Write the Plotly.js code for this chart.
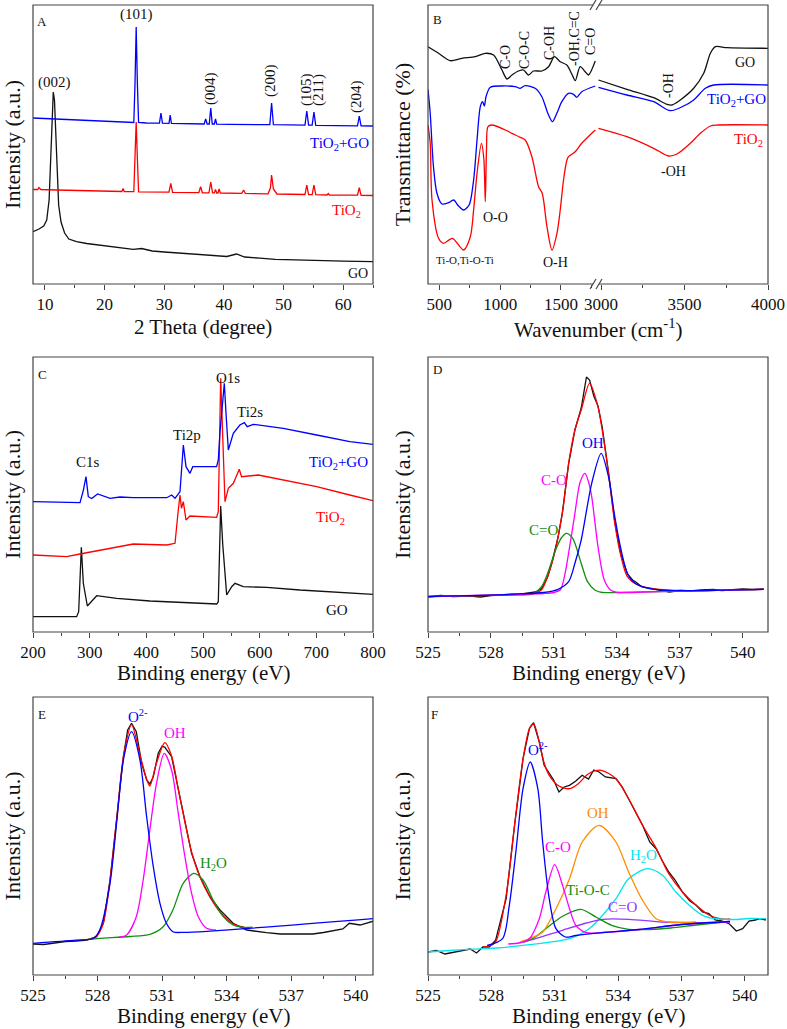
<!DOCTYPE html>
<html>
<head>
<meta charset="utf-8">
<script src="https://cdn.plot.ly/plotly-3.0.1.min.js"></script>
<style>
  html, body { margin: 0; padding: 0; background: #fff; }
  #chart { width: 787px; height: 1029px; }
</style>
</head>
<body>
<div id="chart"></div>
<script>
// ---------- Panel A: XRD (2 theta, intensity a.u.) ----------
const xrdCompX = [8, 10, 12, 14, 16, 18, 20, 22, 24.9, 25.1, 25.3, 25.5, 25.7, 27, 29.2, 29.45, 29.7, 30.8, 31.0, 31.2, 33, 36.7, 36.95, 37.2, 37.55, 37.8, 38.05, 38.4, 38.6, 38.8, 41, 43.8, 47.7, 48.0, 48.3, 53.6, 53.9, 54.2, 54.8, 55.1, 55.4, 62.4, 62.7, 63.0, 65];
const xrdCompY = [166, 165.5, 165, 164.5, 164, 163.5, 163, 162.5, 161.5, 200, 257, 200, 161.5, 161, 160.8, 171, 160.8, 160.7, 169, 160.6, 160.5, 160, 165, 160, 160, 176, 160, 160, 165, 159.8, 159.7, 159.5, 159.3, 181, 159.3, 158.8, 173, 158.8, 158.8, 172, 158.7, 158.2, 168, 158.2, 158];
const xrdTiX = [8, 8.8, 9.0, 9.3, 12, 16, 20, 22.9, 23.1, 23.3, 24.9, 25.1, 25.3, 25.5, 25.7, 30.8, 31.1, 31.4, 35.8, 36.1, 36.4, 37.5, 37.8, 38.1, 38.4, 38.6, 38.8, 39.0, 39.2, 39.4, 43.0, 43.3, 43.6, 45, 47.4, 47.8, 48.0, 48.3, 48.6, 48.9, 53.6, 53.9, 54.2, 54.8, 55.1, 55.4, 57.3, 57.5, 57.7, 62.4, 62.7, 63.0, 65];
const xrdTiY = [94.5, 94.5, 96.5, 94.5, 94, 93.5, 93, 92.5, 95.5, 92.5, 92.3, 125, 162, 125, 92.2, 91.8, 100.5, 91.7, 91.3, 97.3, 91.2, 91.2, 102, 91.1, 91.1, 94.5, 91, 91, 95, 91, 90.7, 94, 90.6, 90.4, 90.2, 96, 109, 95, 93, 90, 89.5, 99, 89.5, 89.4, 99, 89.3, 89, 90.5, 89, 88.8, 96.3, 88.7, 88.5];
const xrdGOX = [8, 9, 9.8, 10.3, 10.7, 11.0, 11.2, 11.4, 11.6, 11.8, 12.0, 12.3, 12.7, 13.3, 14, 15.3, 17, 20, 22.5, 24.8, 26.2, 28, 30, 33, 36, 38.5, 40.5, 42.1, 43.5, 46, 48.6, 52, 55, 60, 65];
const xrdGOY = [52.3, 55, 58, 64, 84, 124, 164, 192, 184, 154, 114, 79, 62, 51, 45, 42.3, 40.5, 38, 36.5, 34.7, 35.5, 33, 32, 30.5, 29, 28.3, 27.5, 30, 27, 25.8, 24.7, 24.2, 23.5, 22.8, 22.3];

// ---------- Panel B: FTIR (wavenumber, transmittance) ----------
const irGOLowX = [407, 494, 590, 686, 795, 878, 946, 1015, 1056, 1097, 1151, 1192, 1233, 1274, 1343, 1398, 1447, 1494, 1548, 1589, 1617, 1658, 1699, 1726, 1782];
const irGOLowY = [237.3, 230.7, 223.3, 225.7, 227.3, 230.7, 229, 214, 205, 209, 213, 214, 209, 213, 213, 217.3, 227.3, 222.3, 219, 210, 203.3, 217.3, 212.3, 209, 223];
const irGOHighX = [2985, 3155, 3315, 3395, 3425, 3475, 3555, 3615, 3655, 3685, 3755, 4000];
const irGOHighY = [204, 194.7, 186.3, 179.7, 179, 184, 195.7, 210.7, 230.7, 237.3, 236.3, 235.7];
const irCompLowX = [407, 425, 452, 480, 521, 576, 617, 658, 699, 745, 782, 810, 837, 856, 870, 884, 919, 1015, 1124, 1165, 1206, 1288, 1343, 1392, 1430, 1466, 1507, 1562, 1603, 1630, 1671, 1782];
const irCompLowY = [194.7, 171, 117.3, 91, 80, 81.3, 84, 78, 74, 79, 104, 144, 177.3, 182.3, 178, 187.3, 196.7, 198, 197.3, 195.7, 198.3, 195.7, 187.3, 170.7, 162.3, 170.7, 182.3, 190.7, 189.7, 186.7, 192.3, 198];
const irCompHighX = [2985, 3155, 3315, 3415, 3495, 3555, 3625, 3675, 4000];
const irCompHighY = [196.7, 189, 182.3, 173.3, 178, 184, 195.7, 199, 199];
const irTiLowX = [407, 425, 440, 494, 534, 608, 699, 755, 782, 810, 846, 866, 878, 888, 900, 933, 1042, 1097, 1165, 1206, 1261, 1316, 1346, 1385, 1426, 1467, 1494, 1521, 1549, 1562, 1617, 1671, 1782];
const irTiLowY = [159, 141, 84, 45.7, 40.7, 45.7, 34, 47.3, 74, 110.7, 140.7, 125, 82.3, 135, 157.3, 159, 154, 150.7, 146.7, 144, 127.3, 97.3, 90.7, 57.3, 34, 50.7, 74, 104, 124, 127.3, 132.3, 140.7, 154];
const irTiHighX = [2985, 3155, 3315, 3405, 3455, 3535, 3595, 3655, 3700, 4000];
const irTiHighY = [155.7, 147.3, 135.7, 128, 130, 140.7, 150.7, 158, 159, 159];

// ---------- Panel C: XPS survey (binding energy, intensity) ----------
const svCompX = [200, 283, 289, 293.5, 297.6, 303.5, 314, 336, 353.5, 377, 436, 444.7, 450.6, 459.4, 465.3, 470, 477, 482, 524, 527, 530, 537.6, 541, 544.7, 553.5, 565, 573, 578, 588.8, 641.7, 700.6, 759, 800];
const svCompY = [130.3, 129.3, 142, 155.3, 135.3, 133.5, 138, 133.7, 135, 134.3, 134.3, 137, 133.7, 140.3, 187, 165.3, 158.7, 165.3, 165.3, 172, 200, 248.7, 215, 182, 198.7, 207, 209.3, 205.3, 207.7, 203.7, 197, 190.3, 187.7];
const svTiX = [200, 259.4, 283, 318, 377, 436, 450.6, 456.4, 459.4, 462, 465.3, 470, 477, 524, 527, 531.2, 535.9, 538.8, 544.7, 553.5, 564, 568, 597.6, 641.7, 700.6, 759, 800];
const svTiY = [77, 75.3, 78, 82, 88, 87, 88.7, 122, 137, 123.7, 130.3, 112, 116, 114.7, 120.3, 253.7, 180, 130.3, 143.7, 148.7, 162.7, 155.3, 157, 152, 145.3, 137, 131.3];
const svGOX = [200, 277, 280.6, 285.3, 288.8, 295.9, 312.4, 347.7, 406.5, 465.3, 524.2, 527, 531.2, 534.7, 541.8, 550.6, 556.5, 571, 612.4, 671, 730, 800];
const svGOY = [15.3, 15.3, 20.3, 84.7, 48.7, 26, 36.3, 33.7, 31, 29.3, 28, 30.3, 126, 88.7, 37, 45.3, 48.7, 45.3, 44.7, 42, 39.7, 37.7];

// ---------- Panel D: O1s of GO ----------
const dDataX = [525, 525.6, 526.2, 527, 527.5, 528, 528.8, 529.5, 530.1, 530.4, 530.7, 530.9, 531.2, 531.4, 531.7, 532.0, 532.3, 532.55, 532.7, 532.9, 533.1, 533.3, 533.6, 533.9, 534.2, 534.5, 534.75, 534.9, 535.2, 535.8, 536.5, 537, 537.5, 538, 538.6, 539, 539.5, 540, 540.5, 541];
const dDataY = [35, 36.5, 35.5, 36, 35, 36.5, 37.5, 38, 40, 43, 55, 69, 95, 119, 168, 202, 224, 255, 252, 236, 226, 205, 160, 110, 77, 58, 52, 50, 45, 43, 40, 41.5, 41, 42, 42.5, 41.5, 42.5, 43, 42.5, 43];
const dFitX = [525, 529, 530, 530.4, 530.9, 531.4, 531.7, 532.0, 532.3, 532.7, 533.1, 533.3, 533.6, 533.9, 534.2, 534.5, 535.0, 535.8, 537, 541];
const dFitY = [35.3, 37.2, 38.5, 42, 68.7, 118.7, 168.7, 202, 222, 248.7, 225.3, 202, 158.7, 108.7, 75.3, 55.3, 47, 43.2, 41.5, 42.7];
const dCdoubleOX = [525, 529, 530, 530.4, 530.7, 531.05, 531.35, 531.6, 531.85, 532.0, 532.3, 532.6, 532.95, 533.3, 534, 536, 541];
const dCdoubleOY = [35.3, 37.2, 38, 45, 58.7, 80.3, 94, 98.7, 95, 88.7, 68.7, 50.3, 42, 39.5, 39.5, 40.4, 42.7];
const dCOX = [525, 529, 530.5, 531.0, 531.3, 531.5, 531.75, 532.0, 532.25, 532.48, 532.65, 532.8, 533.1, 533.4, 533.7, 534.0, 536, 541];
const dCOY = [35.5, 37.5, 38.5, 39.5, 42, 55.3, 85.3, 118.7, 150, 158.7, 150, 135.3, 85.3, 52, 42, 39.7, 40.4, 42.7];
const dOHX = [525, 529, 530.5, 531.2, 531.7, 532.0, 532.3, 532.8, 533.25, 533.6, 533.9, 534.2, 534.5, 534.86, 535.5, 536.5, 541];
const dOHY = [35.5, 37.8, 39.5, 42.7, 50.3, 68.7, 92, 148.7, 178.7, 155.3, 115.3, 82, 58.7, 48.7, 43.7, 41.5, 42.7];

// ---------- Panel E: O1s of TiO2 ----------
const eDataX = [525, 525.5, 526, 526.5, 527, 527.5, 527.96, 528.27, 528.58, 528.9, 529.2, 529.4, 529.58, 529.8, 530.05, 530.28, 530.43, 530.59, 530.82, 531.0, 531.13, 531.44, 531.75, 532.06, 532.37, 532.76, 533.22, 533.69, 534.3, 534.93, 535.4, 535.85, 536.5, 537.4, 538, 538.5, 538.95, 539.4, 539.7, 540.2, 541];
const eDataY = [31, 30.5, 32, 33.5, 34, 35, 38.3, 51.7, 95, 158.3, 218.3, 245, 251.7, 243.3, 211.7, 195, 191, 198.3, 221.7, 229, 227.7, 218.3, 185, 151.7, 121.7, 98.3, 78.3, 65, 51.7, 45, 43.5, 42.3, 41, 40.7, 41, 42.5, 44.3, 46, 51.7, 50, 55];
const eFitX = [527.5, 527.96, 528.27, 528.58, 528.9, 529.2, 529.58, 529.97, 530.28, 530.43, 530.74, 531.13, 531.44, 531.75, 532.06, 532.37, 532.76, 533.22, 533.69, 534.3, 534.8];
const eFitY = [35.2, 39, 52, 95, 158, 218, 250.3, 220, 196, 189, 212, 232.3, 219, 186, 153, 123, 98, 78, 63, 51, 48];
const eO2X = [525, 527, 527.8, 528.1, 528.58, 528.9, 529.2, 529.58, 529.97, 530.28, 530.59, 530.9, 531.2, 531.5, 532, 541];
const eO2Y = [31.7, 34.8, 36.5, 45, 91.7, 155, 215, 243.3, 215, 158.3, 108.3, 71.7, 51.7, 43.3, 42.6, 56.7];
const eOHX = [529, 529.35, 529.8, 530.12, 530.43, 530.74, 531.1, 531.44, 531.75, 532.06, 532.37, 532.68, 533.07, 533.5];
const eOHY = [37.9, 40, 58.3, 95, 145, 191.7, 221.7, 205, 161.7, 118.3, 81.7, 58.3, 46.7, 45];
const eH2OX = [527.5, 528.1, 529.5, 530.43, 531.05, 531.5, 531.98, 532.48, 532.9, 533.37, 533.84, 534.3, 534.77, 535.2];
const eH2OY = [35.6, 36.7, 38.5, 40.7, 48.3, 65, 91.7, 101.7, 95, 75, 58.3, 50, 47.7, 47.8];

// ---------- Panel F: O1s of TiO2+GO ----------
const fDataX = [525, 525.4, 525.8, 526.2, 526.6, 527.0, 527.3, 527.6, 527.9, 528.2, 528.7, 529.1, 529.5, 529.8, 530.0, 530.27, 530.5, 530.74, 530.95, 531.2, 531.45, 531.7, 532.0, 532.3, 532.6, 532.85, 533.1, 533.4, 533.9, 534.2, 534.5, 534.8, 535.16, 535.5, 535.8, 536.1, 536.4, 536.7, 537.05, 537.4, 537.7, 538.0, 538.3, 538.6, 538.9, 539.26, 539.6, 539.9, 540.2, 540.5, 540.7, 541];
const fDataY = [23, 24.5, 21, 22.5, 24.7, 26, 22, 28, 28, 34.7, 76.3, 149.7, 216.3, 246.3, 252.3, 233, 209.7, 201.3, 195, 183, 188, 189.7, 194, 199.7, 196, 205, 203, 198, 196.3, 188, 176.3, 164, 149.7, 133, 126.3, 114, 103, 95, 83, 74, 69.7, 63, 61.3, 55, 54, 51.3, 44, 46.3, 54, 55, 56.3, 55];
const fFitX = [527.6, 527.9, 528.2, 528.7, 529.1, 529.5, 529.8, 530.0, 530.27, 530.5, 530.74, 531.2, 531.7, 532.1, 532.6, 533.2, 533.9, 534.5, 535.16, 535.8, 536.4, 537.05, 537.7, 538.3, 538.9, 539.3];
const fFitY = [28, 29, 33, 80, 150, 216, 246.3, 251.3, 233, 212, 199.7, 189, 186.3, 191, 201.3, 204.7, 196.3, 176.3, 149.7, 127, 101.3, 83, 69.7, 60, 56, 56];
const fO2X = [527.8, 528.53, 528.85, 529.16, 529.5, 529.84, 530.2, 530.43, 530.74, 531.06, 531.5, 532, 533.27, 535, 537, 539.3];
const fO2Y = [29.5, 36.3, 69.7, 123, 186.3, 213, 186.3, 133, 76.3, 46.3, 38, 39.5, 42.3, 45.5, 50.5, 53.5];
const fCOX = [528.8, 529.32, 529.8, 530.27, 530.58, 531.0, 531.37, 531.7, 532.0, 532.5, 533.27, 535, 537, 539.3];
const fCOY = [31, 32, 36.3, 56.3, 83, 110.3, 89.7, 66.3, 49.7, 42.3, 42.5, 45.5, 50.5, 53.5];
const fOHX = [529.3, 529.8, 530.43, 531.06, 531.7, 532.3, 533.1, 533.9, 534.5, 535.16, 535.8, 536.4, 537.7];
const fOHY = [32.5, 36.3, 43, 66.3, 96.3, 133, 149.7, 133, 103, 74.7, 56.3, 53, 53];
const fH2OX = [525, 526, 527, 528.2, 529.8, 531.7, 532.63, 533.27, 533.9, 534.5, 535.4, 536.1, 536.74, 537.37, 538.0, 538.6, 539.5, 540.2, 541];
const fH2OY = [23, 24.5, 25.8, 27, 30.3, 36.3, 46.3, 59.7, 76.3, 96.3, 106.3, 99.7, 83, 69.7, 59.7, 56.3, 55.5, 56.5, 56.3];
const fTiOCX = [529.5, 530.0, 530.58, 531.37, 532.24, 532.95, 533.7, 534.5, 535.5, 536.5, 537.7, 539];
const fTiOCY = [33, 37, 46.3, 58.7, 65.7, 58, 49.7, 45.7, 45.5, 47, 50, 53];
const fCdoubleOX = [529.5, 530.1, 531.37, 532.5, 533.27, 534.5, 536.1, 537.7, 539.3];
const fCdoubleOY = [32.7, 36.3, 44.7, 52, 55.7, 55.7, 53, 52.3, 53];

// ---------- layout helpers ----------
const W = 787, H = 1029;
const px = v => v / W;
const py = v => 1 - v / H;
const FONT = 'Liberation Serif, Times New Roman, serif';
const BLUE = '#0000ff', RED = '#ff0000', BLACK = '#111111', MAG = '#ff00ff',
      GREEN = '#109010', ORANGE = '#ff8c00', CYAN = '#00e5ee', PURPLE = '#9933ff';

function line(x, y, color, xa, ya, shape) {
    return {
        x: x, y: y, xaxis: xa, yaxis: ya, mode: 'lines', showlegend: false,
        hoverinfo: 'skip',
        line: {color: color, width: 1.3, shape: shape || 'linear', smoothing: 0.8}
    };
}

// x titles are placed as annotations (see below) so their distance to the tick labels is exact
function xAxis(l, r, range, tick0, dtick, minor, anchor) {
    return {
        domain: [px(l), px(r)], range: range, anchor: anchor,
        showline: false, showgrid: false, zeroline: false,
        ticks: 'outside', ticklen: 5, tickwidth: 1, tickcolor: '#444',
        tick0: tick0, dtick: dtick, tickmode: 'linear',
        minor: {ticks: 'outside', ticklen: 3, tickwidth: 1, tickcolor: '#444', dtick: minor, tick0: tick0, showgrid: false},
        tickfont: {family: FONT, size: 17, color: '#111'}
    };
}

function yAxis(t, b, range, title, anchor) {
    return {
        domain: [py(b), py(t)], range: range, anchor: anchor,
        showline: false, showgrid: false, zeroline: false, showticklabels: false, ticks: '',
        title: {text: title, font: {family: FONT, size: 22, color: '#111'}, standoff: 10}
    };
}

function label(text, x, y, color, size, angle) {
    return {
        text: text, xref: 'paper', yref: 'paper', x: px(x), y: py(y),
        xanchor: 'center', yanchor: 'middle', showarrow: false, textangle: angle || 0,
        font: {family: FONT, size: size || 15, color: color || '#111'}
    };
}

function frame(l, t, r, b) {
    return {type: 'rect', xref: 'paper', yref: 'paper', x0: px(l), x1: px(r), y0: py(b), y1: py(t),
            line: {color: '#444', width: 1.2}, fillcolor: 'rgba(0,0,0,0)'};
}

function slash(x, y) {
    return {type: 'line', xref: 'paper', yref: 'paper', layer: 'above',
            x0: px(x - 3), x1: px(x + 3), y0: py(y + 5), y1: py(y - 5), line: {color: '#444', width: 1.2}};
}

const traces = [
    // A
    line(xrdGOX, xrdGOY, BLACK, 'x', 'y'),
    line(xrdTiX, xrdTiY, RED, 'x', 'y'),
    line(xrdCompX, xrdCompY, BLUE, 'x', 'y'),
    // B
    line(irGOLowX, irGOLowY, BLACK, 'x2', 'y2', 'spline'),
    line(irCompLowX, irCompLowY, BLUE, 'x2', 'y2', 'spline'),
    line(irTiLowX, irTiLowY, RED, 'x2', 'y2', 'spline'),
    line(irGOHighX, irGOHighY, BLACK, 'x3', 'y2', 'spline'),
    line(irCompHighX, irCompHighY, BLUE, 'x3', 'y2', 'spline'),
    line(irTiHighX, irTiHighY, RED, 'x3', 'y2', 'spline'),
    // C
    line(svGOX, svGOY, BLACK, 'x4', 'y3'),
    line(svTiX, svTiY, RED, 'x4', 'y3'),
    line(svCompX, svCompY, BLUE, 'x4', 'y3'),
    // D
    line(dDataX, dDataY, BLACK, 'x5', 'y4'),
    line(dFitX, dFitY, RED, 'x5', 'y4', 'spline'),
    line(dCdoubleOX, dCdoubleOY, GREEN, 'x5', 'y4', 'spline'),
    line(dCOX, dCOY, MAG, 'x5', 'y4', 'spline'),
    line(dOHX, dOHY, BLUE, 'x5', 'y4', 'spline'),
    // E
    line(eDataX, eDataY, BLACK, 'x6', 'y5'),
    line(eFitX, eFitY, RED, 'x6', 'y5', 'spline'),
    line(eH2OX, eH2OY, GREEN, 'x6', 'y5', 'spline'),
    line(eOHX, eOHY, MAG, 'x6', 'y5', 'spline'),
    line(eO2X, eO2Y, BLUE, 'x6', 'y5', 'spline'),
    // F
    line(fDataX, fDataY, BLACK, 'x7', 'y6'),
    line(fFitX, fFitY, RED, 'x7', 'y6', 'spline'),
    line(fH2OX, fH2OY, CYAN, 'x7', 'y6', 'spline'),
    line(fCdoubleOX, fCdoubleOY, PURPLE, 'x7', 'y6', 'spline'),
    line(fTiOCX, fTiOCY, GREEN, 'x7', 'y6', 'spline'),
    line(fOHX, fOHY, ORANGE, 'x7', 'y6', 'spline'),
    line(fCOX, fCOY, MAG, 'x7', 'y6', 'spline'),
    line(fO2X, fO2Y, BLUE, 'x7', 'y6', 'spline')
];

const BE = 'Binding energy (eV)', INT = 'Intensity (a.u.)';

const layout = {
    width: W, height: H,
    margin: {l: 0, r: 0, t: 0, b: 0},
    paper_bgcolor: '#fff', plot_bgcolor: '#fff',
    font: {family: FONT, color: '#111'},
    xaxis: xAxis(33, 373, [8, 65], 10, 10, 5, 'y'),
    yaxis: yAxis(5, 284, [0, 279], INT, 'x'),
    xaxis2: xAxis(428, 596, [407, 1788], 500, 500, 250, 'y2'),
    xaxis3: xAxis(596, 768, [2970, 4000], 3000, 500, 250, 'y2'),
    yaxis2: yAxis(5, 284, [0, 279], 'Transmittance (%)', 'x2'),
    xaxis4: xAxis(33, 373, [200, 800], 200, 100, 50, 'y3'),
    yaxis3: yAxis(357, 632, [0, 275], INT, 'x4'),
    xaxis5: xAxis(428, 768, [525, 541.2], 525, 3, 1.5, 'y4'),
    yaxis4: yAxis(357, 632, [0, 275], INT, 'x5'),
    xaxis6: xAxis(33, 373, [525, 540.8], 525, 3, 1.5, 'y5'),
    yaxis5: yAxis(697, 975, [0, 278], INT, 'x6'),
    xaxis7: xAxis(428, 768, [525, 541.1], 525, 3, 1.5, 'y6'),
    yaxis6: yAxis(697, 975, [0, 278], INT, 'x7'),
    shapes: [
        frame(33, 5, 373, 284), frame(428, 5, 768, 284), frame(33, 357, 373, 632),
        frame(428, 357, 768, 632), frame(33, 697, 373, 975), frame(428, 697, 768, 975),
        // axis break in panel B
        {type: 'rect', xref: 'paper', yref: 'paper', layer: 'above', x0: px(593), x1: px(599), y0: py(7), y1: py(3), fillcolor: '#fff', line: {width: 0}},
        {type: 'rect', xref: 'paper', yref: 'paper', layer: 'above', x0: px(593), x1: px(599), y0: py(286), y1: py(282), fillcolor: '#fff', line: {width: 0}},
        slash(593, 5), slash(599, 5), slash(593, 284), slash(599, 284)
    ],
    annotations: [
        // axis titles
        label('2 Theta (degree)', 203, 327, '#111', 21),
        label('Wavenumber (cm<sup>-1</sup>)', 598, 328, '#111', 21),
        label(BE, 203, 673, '#111', 21),
        label(BE, 598, 673, '#111', 21),
        label(BE, 203, 1016, '#111', 21),
        label(BE, 598, 1016, '#111', 21),
        // A
        label('A', 42, 21, '#111', 13),
        label('(002)', 54, 82, '#111', 15),
        label('(101)', 136, 14, '#111', 15),
        label('(004)', 210, 89, '#111', 15, -90),
        label('(200)', 271, 81, '#111', 15, -90),
        label('(105)', 307, 90, '#111', 15, -90),
        label('(211)', 319, 90, '#111', 15, -90),
        label('(204)', 357, 97, '#111', 15, -90),
        label('TiO<sub>2</sub>+GO', 339, 144, BLUE, 15),
        label('TiO<sub>2</sub>', 346, 211, RED, 15),
        label('GO', 358, 273, '#111', 14),
        // B
        label('B', 437, 20, '#111', 13),
        label('C-O', 506, 57, '#111', 14, -90),
        label('C-O-C', 525, 50, '#111', 14, -90),
        label('C-OH', 550, 43, '#111', 14, -90),
        label('-OH,C=C', 575, 39, '#111', 14, -90),
        label('C=O', 590, 42, '#111', 14, -90),
        label('GO', 745, 63, '#111', 14),
        label('TiO<sub>2</sub>+GO', 736, 100, BLUE, 15),
        label('TiO<sub>2</sub>', 748, 140, RED, 15),
        label('-OH', 668, 86, '#111', 14, -90),
        label('-OH', 673, 172, '#111', 14),
        label('O-O', 495, 217, '#111', 14),
        label('Ti-O,Ti-O-Ti', 465, 260, '#111', 11),
        label('O-H', 555, 263, '#111', 14),
        // C
        label('C', 42, 374, '#111', 13),
        label('C1s', 88, 462, '#111', 15),
        label('Ti2p', 187, 435, '#111', 15),
        label('O1s', 228, 378, '#111', 15),
        label('Ti2s', 250, 412, '#111', 15),
        label('TiO<sub>2</sub>+GO', 338, 463, BLUE, 15),
        label('TiO<sub>2</sub>', 330, 518, RED, 15),
        label('GO', 337, 610, '#111', 15),
        // D
        label('D', 437, 370, '#111', 13),
        label('OH', 593, 443, BLUE, 15),
        label('C-O', 554, 480, MAG, 15),
        label('C=O', 543, 530, GREEN, 15),
        // E
        label('E', 42, 714, '#111', 13),
        label('O<sup>2-</sup>', 138, 716, BLUE, 15),
        label('OH', 175, 733, MAG, 15),
        label('H<sub>2</sub>O', 213, 864, GREEN, 15),
        // F
        label('F', 434, 714, '#111', 13),
        label('O<sup>2-</sup>', 538, 749, BLUE, 15),
        label('C-O', 558, 847, MAG, 15),
        label('OH', 598, 813, ORANGE, 15),
        label('H<sub>2</sub>O', 643, 856, CYAN, 15),
        label('Ti-O-C', 588, 890, GREEN, 15),
        label('C=O', 622, 907, PURPLE, 15)
    ]
};

Plotly.newPlot('chart', traces, layout, {staticPlot: true});
</script>
</body>
</html>
